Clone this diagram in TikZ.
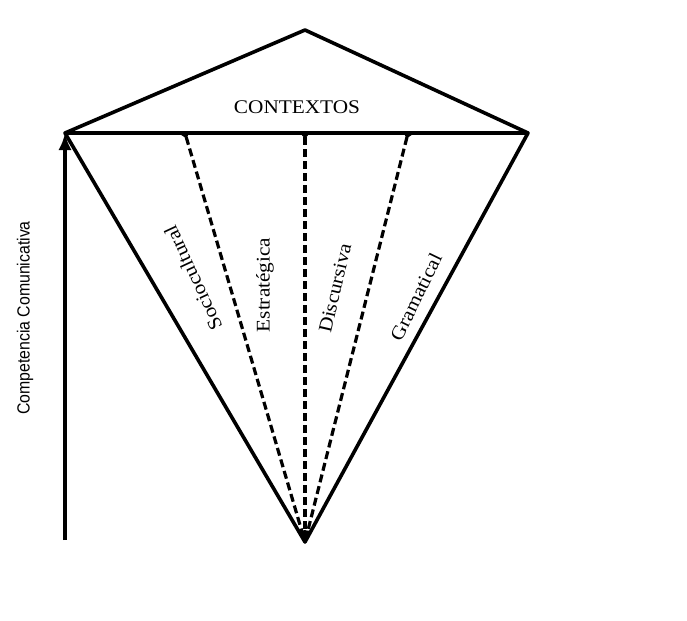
\documentclass[tikz,border=0pt]{standalone}
\usepackage{fontspec}
\setmainfont{Liberation Serif}
\newfontfamily\labelfont[FakeStretch=1.1]{Liberation Serif}
\newfontfamily\axisfont[FakeStretch=0.9]{Liberation Sans}
\usetikzlibrary{arrows.meta}

\begin{document}
\begin{tikzpicture}[
  x=0.75pt,y=-0.75pt,
  edge/.style={line width=2.7pt,line join=round},
  ray/.style={line width=2.4pt,dash pattern=on 6pt off 3pt,{Triangle[reversed,length=1.5mm,width=2.5mm]}-{Latex[length=3mm,width=2.2mm]}},
  lab/.style={font=\labelfont\fontsize{14.5}{16}\selectfont,inner sep=0pt},
  axislab/.style={font=\axisfont\fontsize{13.2}{15}\selectfont,inner sep=0pt}
]
\useasboundingbox (0,0) rectangle (687,621);
\coordinate (top) at (305,30);
\coordinate (lc) at (65,133);
\coordinate (rc) at (528,133);
\coordinate (tip) at (305,542);
\coordinate (base) at (65,540);
\coordinate (m1) at (185,133);
\coordinate (m2) at (305,133);
\coordinate (m3) at (408,133);
\draw[edge] (lc) -- (top) -- (rc) -- (tip) -- cycle;
\draw[edge] (lc) -- (rc);
\foreach \m in {m1,m2,m3} {\draw[ray] (\m) -- (tip);}
\draw[edge,-{Latex[length=4.5mm,width=3.5mm]}] (base) -- (lc);
\node[lab] (ctx) at (297,107) {CONTEXTOS};
\node[lab,rotate=115] (socio) at (193,278) {Sociocultural};
\node[lab,rotate=90] (estra) at (265,285) {Estratégica};
\node[lab,rotate=77] (disc) at (335,288) {Discursiva};
\node[lab,rotate=64] (gram) at (416,297) {Gramatical};
\node[axislab,rotate=90] (comp) at (25,318) {Competencia Comunicativa};
\end{tikzpicture}
\end{document}
